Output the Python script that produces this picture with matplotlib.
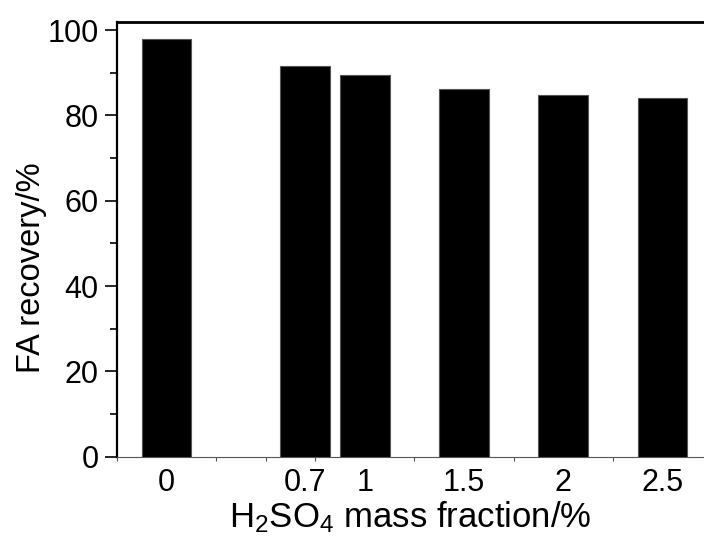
import matplotlib
matplotlib.use("Agg")
import matplotlib.pyplot as plt
from matplotlib.ticker import MultipleLocator, FixedLocator

# H2SO4 mass fraction (%) and FA recovery (%)
fractions = [0, 0.7, 1, 1.5, 2, 2.5]
recovery = [97.8, 91.5, 89.4, 86.3, 84.9, 84.0]
tick_labels = ["0", "0.7", "1", "1.5", "2", "2.5"]

plt.rcParams.update({
    "font.family": "Liberation Sans",
    "mathtext.fontset": "custom",
    "mathtext.rm": "Liberation Sans",
    "mathtext.it": "Liberation Sans",
    "mathtext.default": "regular",
})

fig = plt.figure(figsize=(7.04, 5.36), dpi=100)
ax = fig.add_axes([116.7 / 704, (536 - 456.7) / 536, 1 - 116.7 / 704, (456.7 - 22) / 536])

ax.bar(fractions, recovery, width=0.25, color="black", edgecolor="#555555", linewidth=0.8, zorder=3)

ax.set_xlim(-0.25, 2.709)
ax.set_ylim(0, 101.9)

ax.spines["right"].set_visible(False)
ax.spines["top"].set_linewidth(2)
ax.spines["left"].set_linewidth(1.6)
ax.spines["bottom"].set_linewidth(0.8)
ax.spines["bottom"].set_color("#555555")

ax.xaxis.set_major_locator(FixedLocator(fractions))
ax.set_xticklabels(tick_labels)
ax.xaxis.set_minor_locator(MultipleLocator(0.25))
ax.tick_params(axis="x", which="major", length=0, pad=8, labelsize=22)
ax.tick_params(axis="x", which="minor", length=3, width=0.8, color="#555555", direction="out")

ax.yaxis.set_major_locator(MultipleLocator(20))
ax.yaxis.set_minor_locator(MultipleLocator(10))
ax.tick_params(axis="y", which="major", length=9, width=1.2, pad=4, labelsize=22, direction="out")
ax.tick_params(axis="y", which="minor", length=5, width=1.2, direction="out")

ax.set_xlabel(r"H$_2$SO$_4$ mass fraction/%", fontsize=25, labelpad=1)
ax.set_ylabel("FA recovery/%", fontsize=23.5)
ax.yaxis.set_label_coords(-0.118, 0.435)

fig.savefig("out.png", dpi=100)
